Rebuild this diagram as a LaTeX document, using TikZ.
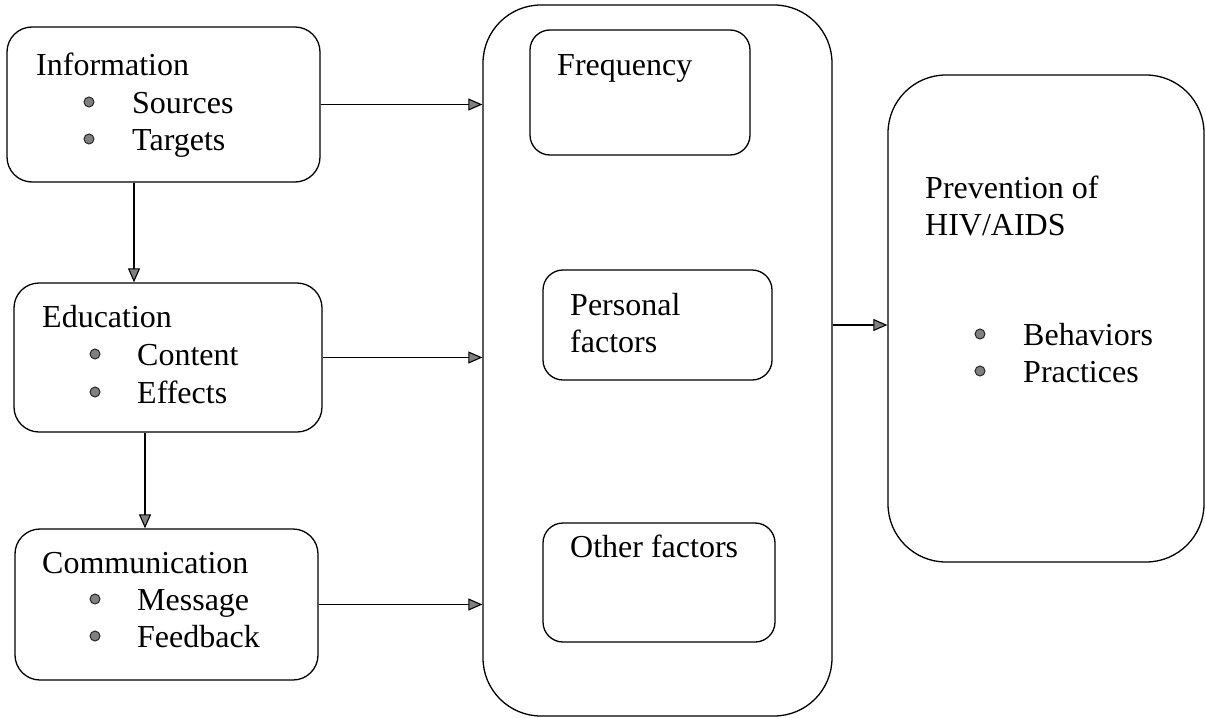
\documentclass[tikz,border=0pt]{standalone}
\usepackage{fontspec}
\setmainfont{Liberation Serif}
\usetikzlibrary{arrows.meta}
\begin{document}
\begin{tikzpicture}[x=1pt,y=-1pt,
  box/.style={draw, line width=1.3pt, rounded corners=25pt, inner sep=0pt},
  lbl/.style={anchor=base west, inner sep=0pt, font=\fontsize{32}{37}\selectfont},
  bul/.style={circle, draw=black!85, fill=black!50, line width=1pt, minimum size=10pt, inner sep=0pt},
  conn/.style={line width=1.1pt, -{Triangle[length=14pt,width=12pt,fill=black!50]}}
]
\useasboundingbox (0,0) rectangle (1206,717);
% left boxes
\node[box, minimum width=313pt, minimum height=155pt] (info) at (163.5,104.5) {};
\node[box, minimum width=308pt, minimum height=149pt] (edu) at (168,357.5) {};
\node[box, minimum width=303pt, minimum height=151pt] (comm) at (166.5,604.5) {};
% middle
\node[box, rounded corners=58pt, minimum width=349pt, minimum height=711pt] (mid) at (657.5,360.5) {};
\node[box, rounded corners=20pt, minimum width=220pt, minimum height=125pt] (freq) at (640,92.5) {};
\node[box, rounded corners=20pt, minimum width=229pt, minimum height=110pt] (pf) at (657.5,325) {};
\node[box, rounded corners=20pt, minimum width=232pt, minimum height=119pt] (of) at (659,582.5) {};
% right
\node[box, rounded corners=58pt, minimum width=316pt, minimum height=487pt] (prev) at (1046,318.5) {};
% texts
\node[lbl] (tinfo) at (36,75) {Information};
\node[bul] (b1) at (89,102) {};
\node[lbl] (t1) at (132,113) {Sources};
\node[bul] (b2) at (89,139) {};
\node[lbl] (t2) at (132,150) {Targets};
\node[lbl] (tedu) at (42,327) {Education};
\node[bul] (b3) at (95,354) {};
\node[lbl] (t3) at (137,365) {Content};
\node[bul] (b4) at (95,392) {};
\node[lbl] (t4) at (137,403) {Effects};
\node[lbl] (tcomm) at (42,573) {Communication};
\node[bul] (b5) at (95,599) {};
\node[lbl] (t5) at (137,610) {Message};
\node[bul] (b6) at (95,636) {};
\node[lbl] (t6) at (137,647) {Feedback};
\node[lbl] (tfreq) at (557,75) {Frequency};
\node[lbl] (tpf1) at (570,315) {Personal};
\node[lbl] (tpf2) at (570,352) {factors};
\node[lbl] (tof) at (570,557) {Other factors};
\node[lbl] (tp1) at (925,198) {Prevention of};
\node[lbl] (tp2) at (925,235) {HIV/AIDS};
\node[bul] (b7) at (980,334) {};
\node[lbl] (t7) at (1023,345) {Behaviors};
\node[bul] (b8) at (980,371) {};
\node[lbl] (t8) at (1023,382) {Practices};
% connectors
\coordinate (c1) at (134,0);
\coordinate (c2) at (145,0);
\draw[conn] (info.east) -- (info.east -| mid.west);
\draw[conn] (edu.east) -- (edu.east -| mid.west);
\draw[conn] (comm.east) -- (comm.east -| mid.west);
\draw[conn] (c1 |- info.south) -- (c1 |- edu.north);
\draw[conn] (c2 |- edu.south) -- (c2 |- comm.north);
\draw[conn] (pf.center -| mid.east) -- (pf.center -| prev.west);
\end{tikzpicture}
\end{document}
